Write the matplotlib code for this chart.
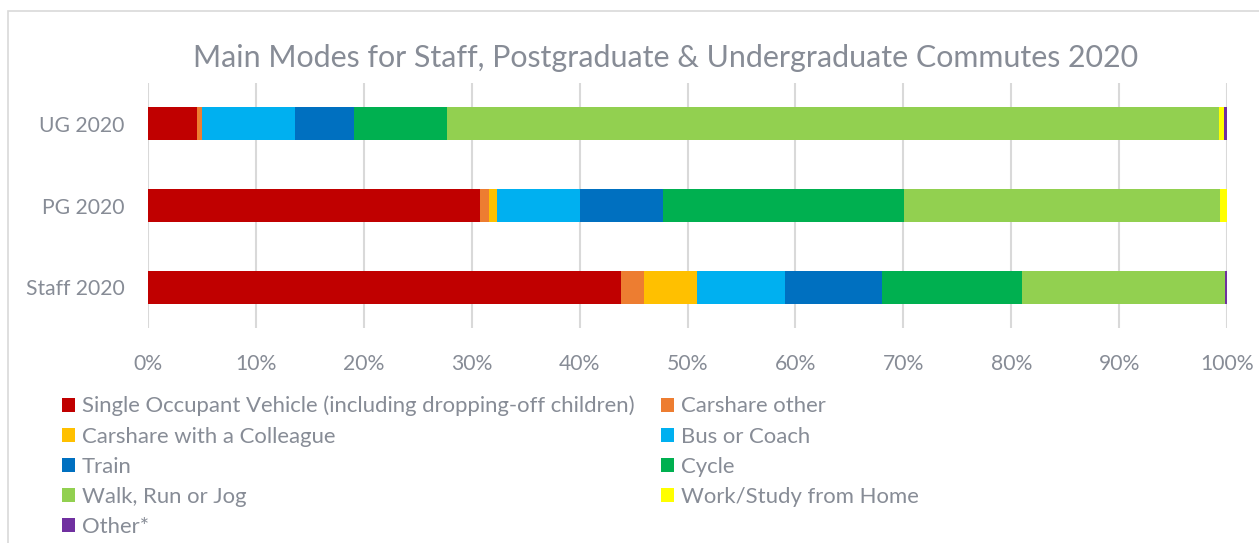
import matplotlib
matplotlib.use("Agg")
import matplotlib.pyplot as plt
from matplotlib.patches import Rectangle, Patch

categories = ["Staff 2020", "PG 2020", "UG 2020"]
modes = ["Single Occupant Vehicle (including dropping-off children)", "Carshare other",
         "Carshare with a Colleague", "Bus or Coach", "Train", "Cycle",
         "Walk, Run or Jog", "Work/Study from Home", "Other*"]
colors = ["#C00000", "#ED7D31", "#FFC000", "#00B0F0", "#0070C0", "#00B050",
          "#92D050", "#FFFF00", "#7030A0"]
# values per mode, order: Staff, PG, UG
sov = [43.8, 30.8, 4.5]
carshare_other = [2.2, 0.8, 0.5]
carshare_colleague = [4.9, 0.75, 0.0]
bus = [8.1, 7.65, 8.65]
train = [9.0, 7.7, 5.4]
cycle = [13.0, 22.4, 8.7]
walk = [18.8, 29.25, 71.55]
wfh = [0.0, 0.65, 0.45]
other = [0.2, 0.0, 0.25]
series = [sov, carshare_other, carshare_colleague, bus, train, cycle, walk, wfh, other]
xticks = [0, 10, 20, 30, 40, 50, 60, 70, 80, 90, 100]

txt = "#878C96"
plt.rcParams['font.family'] = ['Lato', 'DejaVu Sans']

W, H = 1259, 543
fig = plt.figure(figsize=(W / 100, H / 100), dpi=100)
fig.patch.set_facecolor("white")

# chart border
fig.patches.append(Rectangle((8 / W, -0.1), 1.2, 1 - 11 / H + 0.1, transform=fig.transFigure,
                             fill=False, edgecolor="#D9D9D9", linewidth=1.2))

ax = fig.add_axes([148 / W, (H - 328) / H, 1079 / W, 245 / H])
left = [0.0] * len(categories)
handles = []
for name, vals, c in zip(modes, series, colors):
    ax.barh(categories, vals, left=left, height=0.4, color=c, edgecolor="none", zorder=3)
    left = [l + v for l, v in zip(left, vals)]
    handles.append(Patch(facecolor=c, edgecolor="none", label=name))

ax.set_xlim(0, 100)
ax.set_ylim(-0.5, 2.5)
ax.set_xticks(xticks)
ax.set_xticklabels([f"{t}%" for t in xticks])
ax.grid(axis="x", color="#D9D9D9", linewidth=1.5, zorder=0)
ax.set_axisbelow(True)
for s in ax.spines.values():
    s.set_visible(False)
ax.tick_params(axis="both", length=0, colors=txt, labelsize=15.2)
ax.tick_params(axis="x", pad=19)
ax.tick_params(axis="y", pad=17)

fig.text(666 / W, 1 - 58 / H, "Main Modes for Staff, Postgraduate & Undergraduate Commutes 2020",
         ha="center", va="center", fontsize=21.9, color=txt)

order = [0, 2, 4, 6, 8, 1, 3, 5, 7]
leg = fig.legend([handles[i] for i in order], [modes[i] for i in order], ncol=2,
                 loc="upper left", bbox_to_anchor=(53 / W, 1 - 387 / H), frameon=False,
                 fontsize=15.9, labelcolor=txt, handlelength=0.6, handleheight=0.6,
                 handletextpad=0.3, columnspacing=1.2, labelspacing=0.46, borderaxespad=0)

fig.savefig("out.png", dpi=100, facecolor="white")
